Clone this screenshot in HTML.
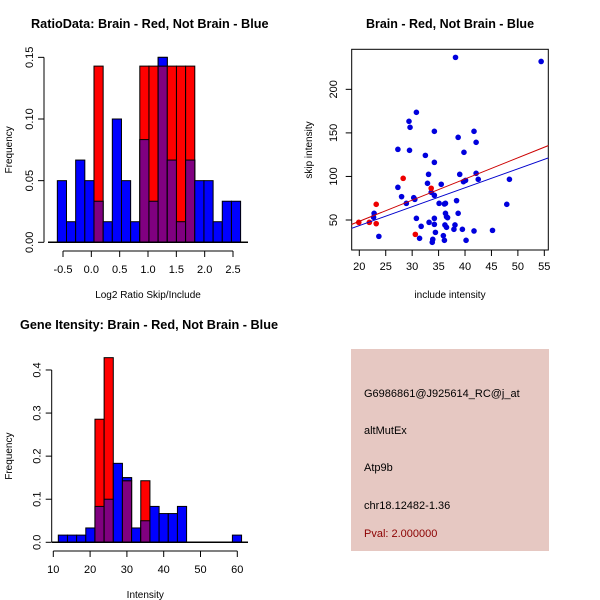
<!DOCTYPE html>
<html><head><meta charset="utf-8"><style>
body{margin:0;background:#fff;}
svg{display:block;font-family:"Liberation Sans",sans-serif;}
</style></head><body>
<svg id="c" width="600" height="600" viewBox="0 0 600 600">
<rect x="351" y="349" width="198" height="202" fill="#e6c8c2"/>
<g font-size="11">
<text x="364" y="397">G6986861@J925614_RC@j_at</text>
<text x="364" y="434">altMutEx</text>
<text x="364" y="471">Atp9b</text>
<text x="364" y="509">chr18.12482-1.36</text>
<text x="364" y="537" fill="#8b0000">Pval: 2.000000</text>
</g>
</svg>
<script>
// ---- data: ratio histogram ----
const ratioBlue=[0.05,0.0167,0.0667,0.05,0.0333,0.0167,0.1,0.05,0.0167,0.0833,0.0333,0.15,0.0667,0.0167,0.0667,0.05,0.05,0.0167,0.0333,0.0333];
const ratioRed=[0,0,0,0,0.1429,0,0,0,0,0.1429,0.1429,0.1429,0.1429,0.1429,0.1429,0,0,0,0,0];
const ratioXTicks=[-0.5,0,0.5,1,1.5,2,2.5];
const ratioXLabels=["-0.5","0.0","0.5","1.0","1.5","2.0","2.5"];
const ratioYTicks=[0,0.05,0.1,0.15];
const ratioYLabels=["0.00","0.05","0.10","0.15"];
// ---- data: intensity histogram ----
const intBlue=[0.0167,0.0167,0.0167,0.0333,0.0833,0.1,0.1833,0.15,0.0333,0.05,0.0833,0.0667,0.0667,0.0833,0,0,0,0,0,0.0167];
const intRed=[0,0,0,0,0.2857,0.4286,0,0.1429,0,0.1429,0,0,0,0,0,0,0,0,0,0];
const intXTicks=[10,20,30,40,50,60];
const intYTicks=[0,0.1,0.2,0.3,0.4];
const intYLabels=["0.0","0.1","0.2","0.3","0.4"];
// ---- data: scatter ----
const blueX=[38.2,54.4,30.8,29.4,29.6,34.2,41.7,38.7,42.1,27.3,29.5,32.5,39.8,34.2,33.1,39.0,42.1,42.5,48.4,39.7,40.1,35.5,32.9,27.3,33.6,34.2,28.0,30.3,30.5,28.9,35.1,36.1,36.3,38.4,47.9,22.8,22.7,30.8,34.2,36.3,36.5,36.7,38.7,33.2,34.2,36.2,36.5,38.1,37.9,39.5,31.7,41.7,45.2,34.4,35.9,33.9,33.8,36.1,40.2,31.4,23.7];
const blueY=[236.7,232,173.6,163.3,156.4,151.8,151.8,144.9,139.2,131.1,130,124.2,127.7,116.2,102.4,102.4,103.6,96.7,96.7,94,95.5,91,92.1,87.5,81.8,78.3,76.8,75.6,73.7,69.1,69.1,68.4,69.1,72.2,68,57.7,53.1,51.9,51.9,57.7,53.8,52.7,57.7,47.3,45,44.3,41.6,44.3,39.3,39.3,42.7,37.4,38.1,35.8,32,27.8,24.4,26.7,26.7,29,31.2];
const redX=[19.9,21.9,23.2,23.2,28.3,33.6,30.6];
const redY=[47.3,47.3,68,45.8,97.8,86.4,33.5];
const fitRed=[-0.1,2.43];   // intercept, slope
const fitBlue=[0.07,2.174];
const scXTicks=[20,25,30,35,40,45,50,55];
const scYTicks=[50,100,150,200];

const svg=document.getElementById('c');
const NS='http://www.w3.org/2000/svg';
function mk(tag,attrs,parent){const e=document.createElementNS(NS,tag);for(const k in attrs)e.setAttribute(k,attrs[k]);(parent||svg).appendChild(e);return e;}
function txt(s,x,y,attrs){const t=mk('text',Object.assign({x:x,y:y},attrs||{}));t.textContent=s;return t;}

function hist(o){
  const g=mk('g',{});
  
  
  const sx=v=>o.x0+(v-o.xv0)*o.kx, sy=v=>o.base-v*o.ky;
  for(let i=0;i<o.blue.length;i++){
    const a=o.start+i*o.w, x=sx(a), wpx=o.w*o.kx;
    const b=o.blue[i], r=o.red[i], m=Math.min(b,r);
    if(b>0){const e=mk('rect',{x:x,y:sy(b),width:wpx,height:b*o.ky,fill:'#0000ff',stroke:'#000','stroke-width':1},g);
      }
    if(r>0){const e=mk('rect',{x:x,y:sy(r),width:wpx,height:r*o.ky,fill:'#ff0000',stroke:'#000','stroke-width':1},g);
      }
    if(m>0){const e=mk('rect',{x:x,y:sy(m),width:wpx,height:m*o.ky,fill:'#800080',stroke:'#000','stroke-width':1},g);
      }
    if(b>r&&r>0){const e=mk('rect',{x:x,y:sy(b),width:wpx,height:(b-r)*o.ky,fill:'#0000ff',stroke:'#000','stroke-width':1},g);
      }
  }
  const xa=mk('g',{},g);
  mk('line',{x1:sx(o.xt[0]),x2:sx(o.xt[o.xt.length-1]),y1:o.axY,y2:o.axY,stroke:'#000'},xa);
  o.xt.forEach((v,i)=>{mk('line',{x1:sx(v),x2:sx(v),y1:o.axY,y2:o.axY+6,stroke:'#000'},xa);
    txt(o.xl[i],sx(v),o.axY+22,{'font-size':11,'text-anchor':'middle'});});
  const ya=mk('g',{},g);
  mk('line',{x1:o.axX,x2:o.axX,y1:sy(o.yt[0]),y2:sy(o.yt[o.yt.length-1]),stroke:'#000'},ya);
  o.yt.forEach((v,i)=>{mk('line',{x1:o.axX,x2:o.axX-6,y1:sy(v),y2:sy(v),stroke:'#000'},ya);
    txt(o.yl[i],0,0,{'font-size':11,'text-anchor':'middle',transform:`translate(${o.axX-11},${sy(v)}) rotate(-90)`});});
  const bl=mk('line',{x1:o.blx1,x2:o.blx2,y1:o.base,y2:o.base,stroke:'#000','stroke-width':1.5},g);
  
  txt(o.xtitle,sx(o.xmid),o.axY+47,{'font-size':10,'text-anchor':'middle'});
  txt('Frequency',0,0,{'font-size':10,'text-anchor':'middle',transform:`translate(12,${(o.base+sy(o.yt[o.yt.length-1]))/2}) rotate(-90)`});
  txt(o.title,o.tx,o.ty,{'font-size':12.7,'font-weight':'bold','text-anchor':'start'});
}
hist({name:'ratio-histogram',blue:ratioBlue,red:ratioRed,start:-0.6,w:0.1617,x0:63,xv0:-0.5,kx:56.67,base:242.3,ky:1233,
  xt:ratioXTicks,xl:ratioXLabels,yt:ratioYTicks,yl:ratioYLabels,axY:251,axX:44,xmid:1,xtitle:'Log2 Ratio Skip/Include',
  title:'RatioData: Brain - Red, Not Brain - Blue',tx:31,ty:28,blx1:48,blx2:248});
hist({name:'intensity-histogram',blue:intBlue,red:intRed,start:11.36,w:2.49,x0:53.3,xv0:10,kx:3.68,base:542.3,ky:430.8,
  xt:intXTicks,xl:intXTicks.map(String),yt:intYTicks,yl:intYLabels,axY:551,axX:51.7,xmid:35,xtitle:'Intensity',
  title:'Gene Itensity: Brain - Red, Not Brain - Blue',tx:20,ty:329,blx1:52,blx2:248});

// scatter
const sg=mk('g',{});


const X=v=>359.3+(v-20)*5.286, Y=v=>220-(v-50)*0.8711;
mk('rect',{x:351.7,y:49.3,width:196.6,height:200.7,fill:'none',stroke:'#000'},sg);
const cp=mk('clipPath',{id:'clp'},sg);mk('rect',{x:351.7,y:49.3,width:196.6,height:200.7},cp);
blueX.forEach((v,i)=>{const c=mk('circle',{cx:X(v),cy:Y(blueY[i]),r:2.8,fill:'#0000dd'},sg);
  });
redX.forEach((v,i)=>{const c=mk('circle',{cx:X(v),cy:Y(redY[i]),r:2.8,fill:'#ee0000'},sg);
  });
[[fitRed,'#cc0000','red-fit-line'],[fitBlue,'#0000cc','blue-fit-line']].forEach(([f,col,nm])=>{
  const x1=18.5,x2=55.8;const l=mk('line',{x1:X(x1),y1:Y(f[0]+f[1]*x1),x2:X(x2),y2:Y(f[0]+f[1]*x2),stroke:col,'stroke-width':1,'clip-path':'url(#clp)'},sg);
  });
scXTicks.forEach(v=>{mk('line',{x1:X(v),x2:X(v),y1:250,y2:256,stroke:'#000'},sg);
  txt(String(v),X(v),270,{'font-size':11,'text-anchor':'middle'});});
scYTicks.forEach(v=>{mk('line',{x1:351.7,x2:345.7,y1:Y(v),y2:Y(v),stroke:'#000'},sg);
  txt(String(v),0,0,{'font-size':11,'text-anchor':'middle',transform:`translate(337,${Y(v)}) rotate(-90)`});});
txt('include intensity',450,298,{'font-size':10,'text-anchor':'middle'});
txt('skip intensity',0,0,{'font-size':10,'text-anchor':'middle',transform:'translate(312,150) rotate(-90)'});
txt('Brain - Red, Not Brain - Blue',450,28,{'font-size':12.5,'font-weight':'bold','text-anchor':'middle'});
</script>
</body></html>
